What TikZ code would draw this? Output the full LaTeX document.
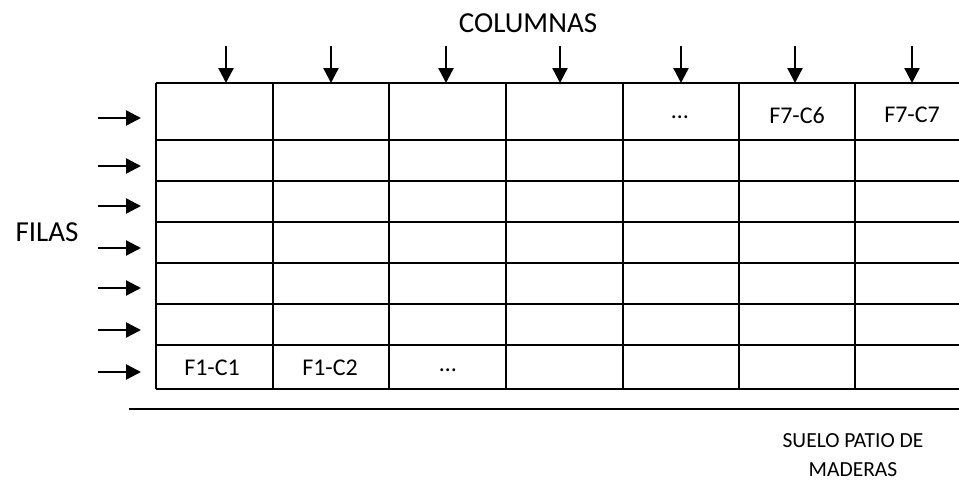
\documentclass[tikz,border=0pt]{standalone}
\usepackage{fontspec}
\setmainfont{Carlito}
\usetikzlibrary{arrows.meta}

\tikzset{
  gridline/.style={line width=1.8pt},
  feed/.style={line width=2.4pt,-{Triangle[length=15pt,width=15pt]}},
  celltext/.style={font=\fontsize{24}{27}\selectfont},
  bigtext/.style={font=\fontsize{29}{33}\selectfont},
  floortext/.style={font=\fontsize{21.5}{24}\selectfont,align=center,inner sep=0pt}
}

\begin{document}
\begin{tikzpicture}[x=1pt,y=-1pt]
\useasboundingbox (0,0) rectangle (959,482);
\clip (0,0) rectangle (959,482);

% grid of the stack
\foreach \yy in {83,140,181,222,263,304,345,389}
  \draw[gridline] (156,\yy) -- (975,\yy);
\foreach \xx in {156,273,389,506,623,739,855,972}
  \draw[gridline] (\xx,83) -- (\xx,389);

% cell labels
\node[celltext] (dotstop) at (680,117) {…};
\node[celltext] (f7c6) at (797,115) {F7-C6};
\node[celltext] (f7c7) at (912,115) {F7-C7};
\node[celltext] (f1c1) at (212,368) {F1-C1};
\node[celltext] (f1c2) at (330,368) {F1-C2};
\node[celltext] (dotsbot) at (448,370) {…};

% column arrows
\foreach \xx [count=\i] in {226,331,446,560,681,795,912} {
  \coordinate (ctop\i) at (\xx,46);
  \coordinate (cend\i) at (\xx,83);
  \draw[feed] (ctop\i) -- (cend\i);
}
\node[bigtext] (columnas) at (528,23) {COLUMNAS};

% row arrows
\foreach \yy [count=\i] in {118,166,206,248,288,330,372} {
  \coordinate (rstart\i) at (98,\yy);
  \coordinate (rend\i) at (141,\yy);
  \draw[feed] (rstart\i) -- (rend\i);
}
\node[bigtext] (filas) at (47,232) {FILAS};

% floor
\coordinate (floorl) at (129,409);
\coordinate (floorr) at (970,409);
\draw[line width=1.4pt] (floorl) -- (floorr);
\node[floortext] (suelo) at (853,441) {SUELO PATIO DE};
\node[floortext] (maderas) at (853,470) {MADERAS};

\end{tikzpicture}
\end{document}
